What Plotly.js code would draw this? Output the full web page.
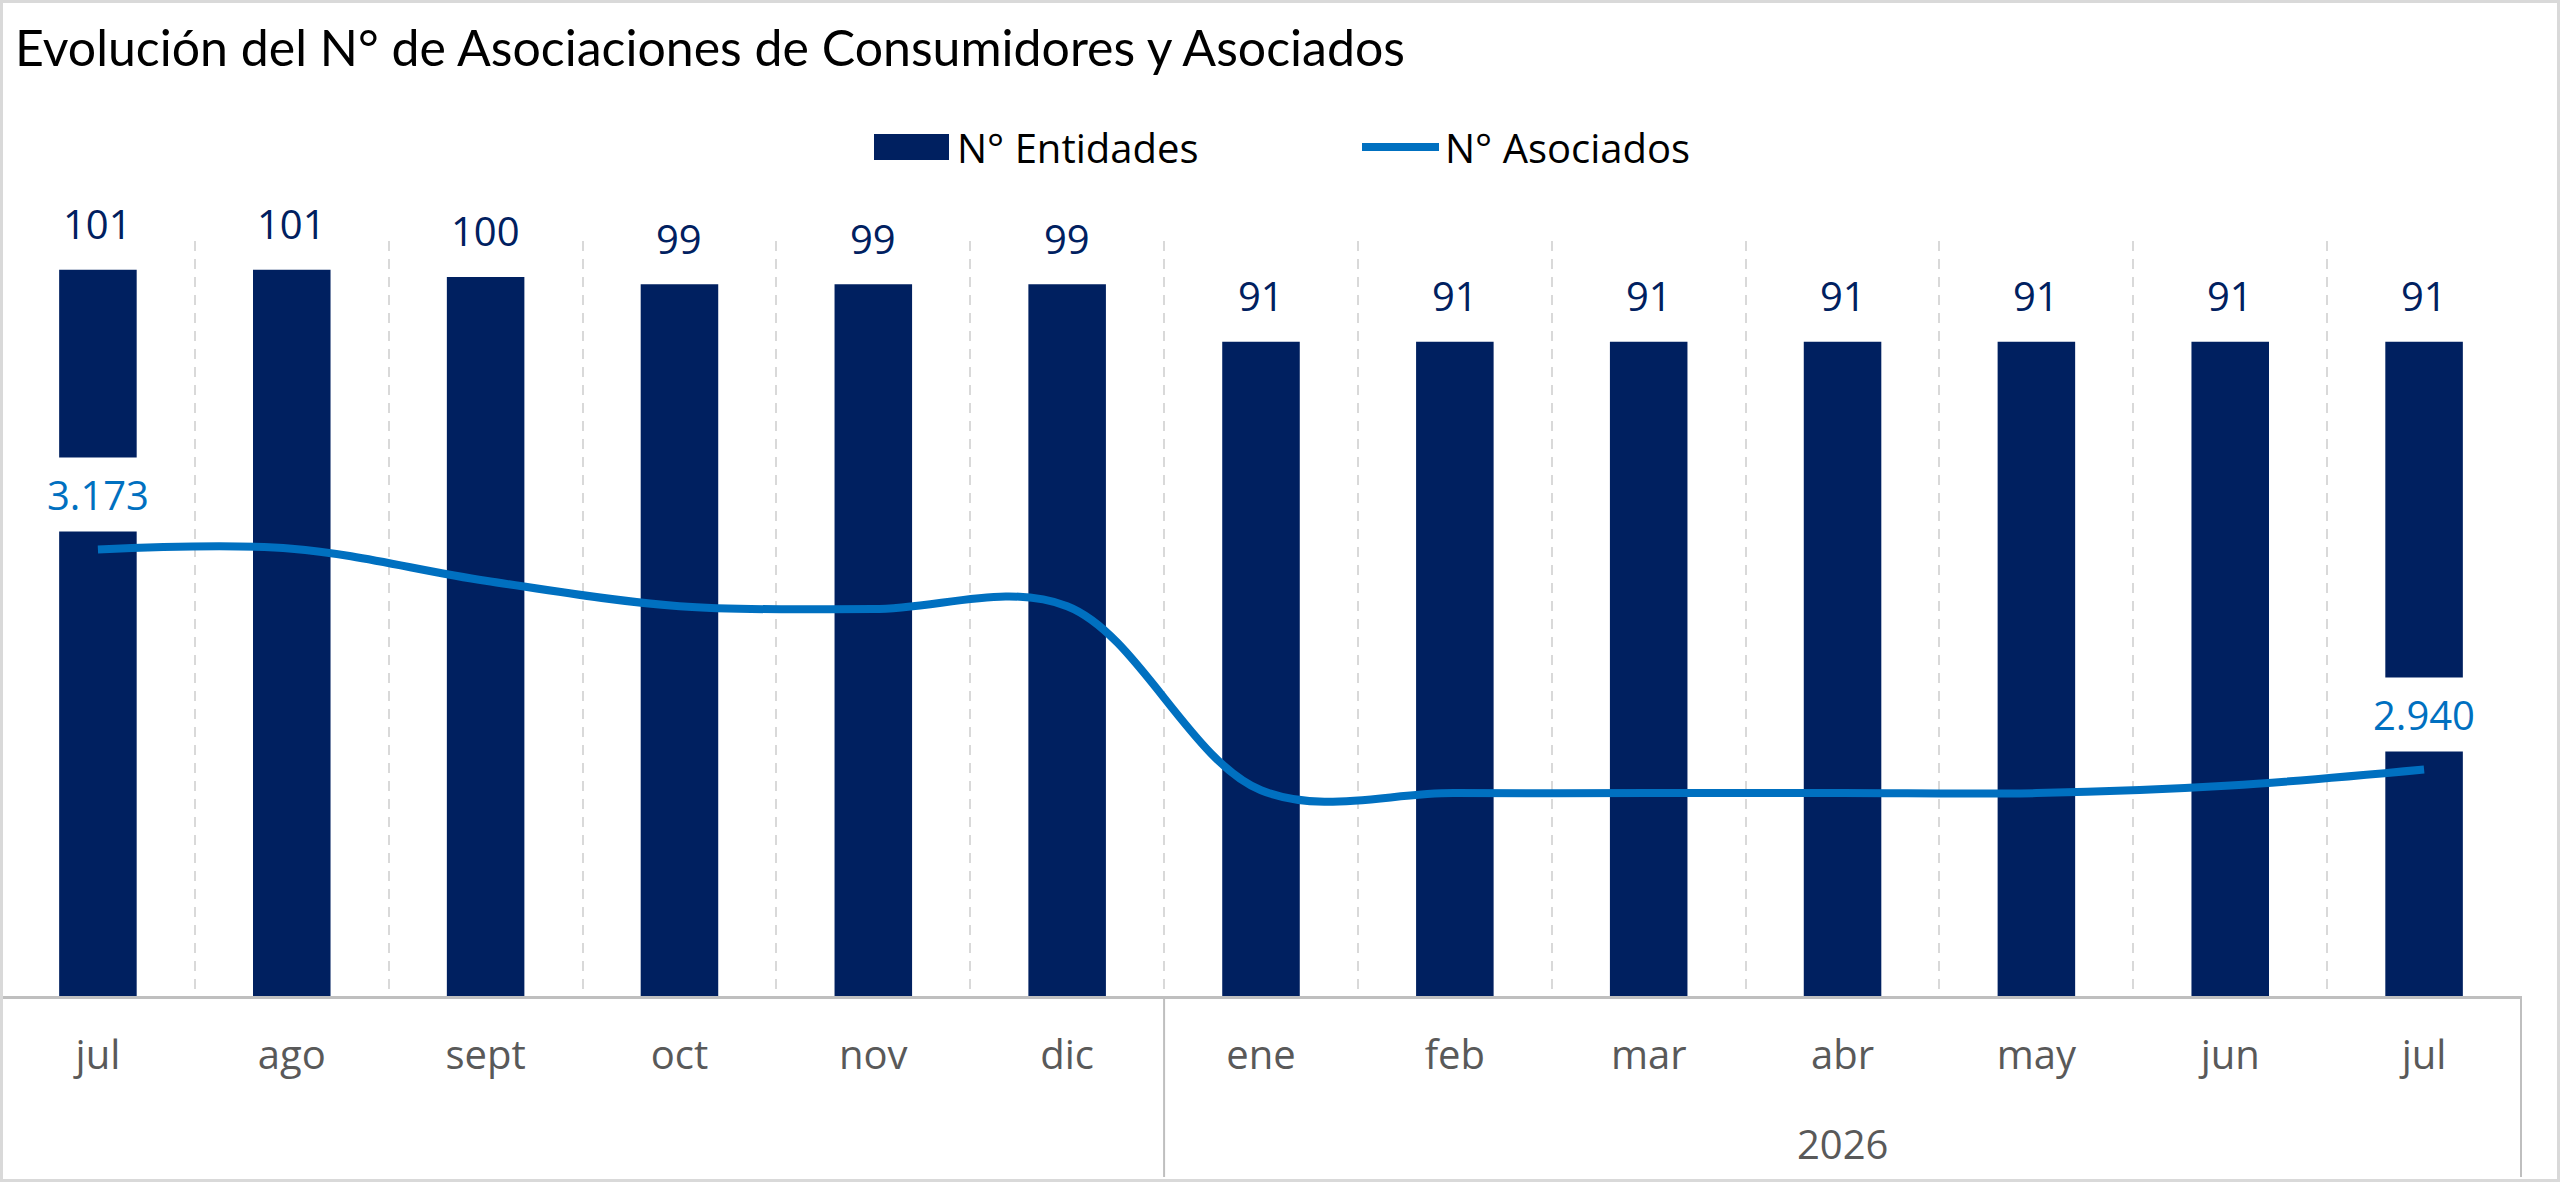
<!DOCTYPE html>
<html>
<head>
<meta charset="utf-8">
<script src="https://cdn.plot.ly/plotly-3.0.1.min.js"></script>
<style>
  html, body { margin: 0; padding: 0; background: #fff; }
  #wrap { position: relative; width: 2560px; height: 1182px; }
  #chart { width: 2560px; height: 1182px; }
  #frame { position: absolute; left: 0; top: 0; width: 2560px; height: 1182px;
           box-sizing: border-box; border: 3px solid #d9d9d9; pointer-events: none; }
</style>
</head>
<body>
<div id="wrap">
  <div id="chart"></div>
  <div id="frame"></div>
</div>
<script>
/* ── Data ─────────────────────────────────────────────── */
const MONTHS = ['jul', 'ago', 'sept', 'oct', 'nov', 'dic', 'ene', 'feb', 'mar', 'abr', 'may', 'jun', 'jul'];
const YEARS  = ['', '', '', '', '', '', '2026', '2026', '2026', '2026', '2026', '2026', '2026'];
const ENTIDADES = [101, 101, 100, 99, 99, 99, 91, 91, 91, 91, 91, 91, 91];
const ASOCIADOS = [3173, 3174, 3140, 3113, 3110, 3113, 2918, 2915, 2915, 2915, 2915, 2923, 2940];
const ASOC_LABELED = [0, 12];   // only first and last points carry a label

/* ── Look ─────────────────────────────────────────────── */
const W = 2560, H = 1182;
const M = { l: 0, r: 38, t: 241, b: 186 };
const PW = W - M.l - M.r, PH = H - M.t - M.b;
const NAVY = '#002060', BLUE = '#0070C0', GREY = '#595959', RULE = '#bfbfbf';
const FONT = 'Open Sans, sans-serif';

// pixel -> paper helpers for hand-placed decorations
const px = x => (x - M.l) / PW;
const py = y => (H - M.b - y) / PH;

const fmt = v => String(v).replace(/\B(?=(\d{3})+(?!\d))/g, '.');

// unique category keys (the two "jul" must stay apart)
const KEYS = MONTHS.map((m, i) => (YEARS[i] || '2025') + ' ' + m);

const traces = [
  {
    type: 'bar',
    x: KEYS, y: ENTIDADES,
    name: 'N° Entidades',
    marker: { color: NAVY },
    hoverinfo: 'y'
  },
  {
    type: 'scatter',
    mode: 'lines',
    x: KEYS, y: ASOCIADOS,
    yaxis: 'y2',
    name: 'N° Asociados',
    line: { color: BLUE, width: 8, shape: 'spline', smoothing: 1 },
    hoverinfo: 'y'
  }
];

const annotations = [];
ENTIDADES.forEach((v, i) => annotations.push({
  x: KEYS[i], y: v, xref: 'x', yref: 'y',
  text: String(v), showarrow: false,
  yanchor: 'middle', yshift: 46,
  font: { family: FONT, size: 40, color: NAVY }
}));
ASOC_LABELED.forEach(i => annotations.push({
  x: KEYS[i], y: ASOCIADOS[i], xref: 'x', yref: 'y2',
  text: fmt(ASOCIADOS[i]), showarrow: false,
  yanchor: 'middle', yshift: 55,
  bgcolor: '#ffffff', borderpad: 9,
  font: { family: FONT, size: 40, color: BLUE }
}));

/* ── Year groups under the month labels ───────────────── */
const shapes = [];
const bounds = [-0.5];
YEARS.forEach((y, i) => { if (i > 0 && y !== YEARS[i - 1]) bounds.push(i - 0.5); });
bounds.push(YEARS.length - 0.5);
bounds.forEach(b => shapes.push({
  type: 'line', xref: 'x', yref: 'paper', x0: b, x1: b, y0: 0, y1: py(1177),
  line: { color: RULE, width: 2 }
}));
for (let g = 0; g < bounds.length - 1; g++) {
  const first = Math.ceil(bounds[g]);
  const label = YEARS[first];
  if (!label) continue;
  annotations.push({
    xref: 'x', yref: 'paper', x: (bounds[g] + bounds[g + 1]) / 2, y: py(1143),
    text: label, showarrow: false, yanchor: 'middle',
    font: { family: FONT, size: 40, color: GREY }
  });
}

/* ── Legend drawn by hand so the symbols keep Excel's proportions ── */
annotations.push(
  { xref: 'paper', yref: 'paper', x: px(955), y: py(147), xanchor: 'left', yanchor: 'middle',
    text: 'N° Entidades', showarrow: false, font: { family: FONT, size: 40, color: '#000' } },
  { xref: 'paper', yref: 'paper', x: px(1443), y: py(147), xanchor: 'left', yanchor: 'middle',
    text: 'N° Asociados', showarrow: false, font: { family: FONT, size: 40, color: '#000' } }
);
shapes.push(
  { type: 'rect', xref: 'paper', yref: 'paper', x0: px(874), x1: px(949), y0: py(160), y1: py(134),
    fillcolor: NAVY, line: { width: 0 } },
  { type: 'line', xref: 'paper', yref: 'paper', x0: px(1362), x1: px(1439), y0: py(147), y1: py(147),
    line: { color: BLUE, width: 8 } }
);

const layout = {
  width: W, height: H,
  margin: M,
  paper_bgcolor: '#fff', plot_bgcolor: '#fff',
  font: { family: FONT, color: GREY },
  showlegend: false,
  title: {
    text: 'Evolución del N° de Asociaciones de Consumidores y Asociados',
    xref: 'container', yref: 'container',
    x: 15 / W, xanchor: 'left',
    y: 1 - 48 / H, yanchor: 'middle',
    font: { family: 'Lato, sans-serif', size: 50, color: '#000' }
  },
  bargap: 0.6,
  xaxis: {
    type: 'category',
    tickvals: KEYS, ticktext: MONTHS,
    showline: true, linecolor: RULE, linewidth: 3,
    showgrid: true, gridcolor: '#d9d9d9', gridwidth: 2, griddash: '10px,8px',
    tickson: 'boundaries',
    ticks: '', ticklabelstandoff: 22,
    tickfont: { family: FONT, size: 40, color: GREY },
    zeroline: false
  },
  yaxis: {
    range: [0, 105],
    visible: false, showgrid: false, zeroline: false
  },
  yaxis2: {
    range: [2700, 3500],
    overlaying: 'y', side: 'right',
    visible: false, showgrid: false, zeroline: false
  },
  annotations: annotations,
  shapes: shapes
};

Plotly.newPlot('chart', traces, layout, { displayModeBar: false, staticPlot: true });
</script>
</body>
</html>
